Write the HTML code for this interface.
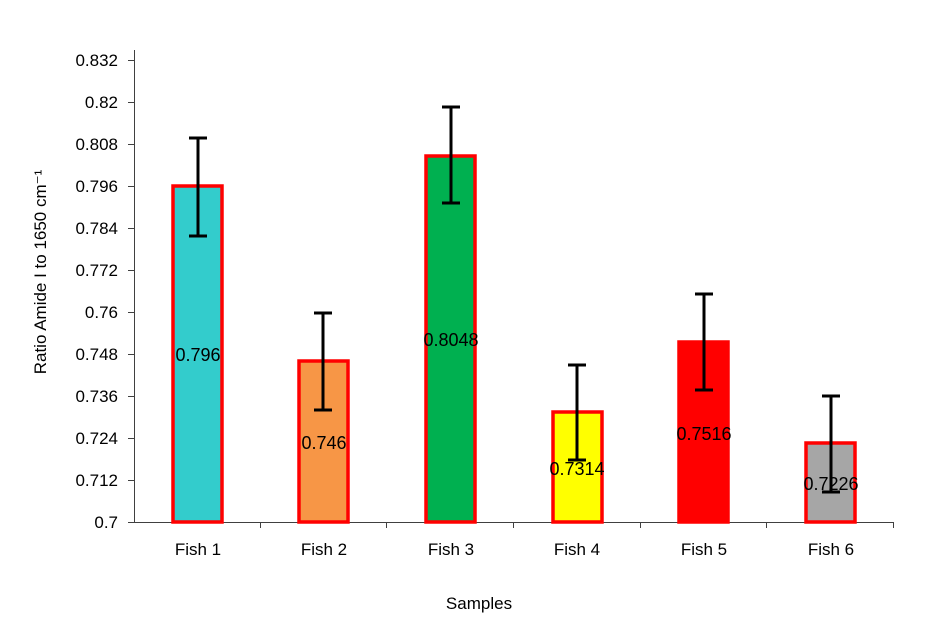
<!DOCTYPE html>
<html><head><meta charset="utf-8"><style>body{margin:0;background:#fff}svg{display:block}</style></head><body>
<svg width="941" height="629" xmlns="http://www.w3.org/2000/svg" font-family="Liberation Sans, Arial, sans-serif">
<rect width="941" height="629" fill="#fff"/>
<g stroke="#404040" stroke-width="1">
<line x1="134.5" y1="50" x2="134.5" y2="522"/>
<line x1="134" y1="522.5" x2="894" y2="522.5"/>
<line x1="128" y1="60.5" x2="134" y2="60.5"/><line x1="128" y1="102.5" x2="134" y2="102.5"/>
<line x1="128" y1="144.5" x2="134" y2="144.5"/><line x1="128" y1="186.5" x2="134" y2="186.5"/>
<line x1="128" y1="228.5" x2="134" y2="228.5"/><line x1="128" y1="270.5" x2="134" y2="270.5"/>
<line x1="128" y1="312.5" x2="134" y2="312.5"/><line x1="128" y1="354.5" x2="134" y2="354.5"/>
<line x1="128" y1="396.5" x2="134" y2="396.5"/><line x1="128" y1="438.5" x2="134" y2="438.5"/>
<line x1="128" y1="480.5" x2="134" y2="480.5"/><line x1="128" y1="522.5" x2="134" y2="522.5"/>
<line x1="260.5" y1="522" x2="260.5" y2="528"/><line x1="386.5" y1="522" x2="386.5" y2="528"/>
<line x1="513.5" y1="522" x2="513.5" y2="528"/><line x1="640.5" y1="522" x2="640.5" y2="528"/>
<line x1="766.5" y1="522" x2="766.5" y2="528"/><line x1="893.5" y1="522" x2="893.5" y2="528"/>
</g>
<g font-size="17" text-anchor="end" fill="#000">
<text x="118" y="66">0.832</text><text x="118" y="108">0.82</text><text x="118" y="150">0.808</text>
<text x="118" y="192">0.796</text><text x="118" y="234">0.784</text><text x="118" y="276">0.772</text>
<text x="118" y="318">0.76</text><text x="118" y="360">0.748</text><text x="118" y="402">0.736</text>
<text x="118" y="444">0.724</text><text x="118" y="486">0.712</text><text x="118" y="528">0.7</text>
</g>
<text transform="translate(46,272) rotate(-90)" font-size="17" text-anchor="middle">Ratio Amide I to 1650 cm⁻¹</text>
<g stroke="#ff0000" stroke-width="3.5">
<rect x="173" y="186" width="49" height="336" fill="#33cccc"/>
<rect x="299" y="361" width="49" height="161" fill="#f79646"/>
<rect x="426" y="156" width="49" height="366" fill="#00b050"/>
<rect x="553" y="412" width="49" height="110" fill="#ffff00"/>
<rect x="679" y="342" width="49" height="180" fill="#ff0000"/>
<rect x="806" y="443" width="49" height="79" fill="#a6a6a6"/>
</g>
<g stroke="#000" stroke-width="3">
<path d="M198 138V236M189 138H207M189 236H207"/>
<path d="M323 313V410M314 313H332M314 410H332"/>
<path d="M451 107V203M442 107H460M442 203H460"/>
<path d="M577 365V460M568 365H586M568 460H586"/>
<path d="M704 294V390M695 294H713M695 390H713"/>
<path d="M831 396V492M822 396H840M822 492H840"/>
</g>
<g font-size="18" text-anchor="middle">
<text x="198" y="361">0.796</text><text x="324" y="449">0.746</text><text x="451" y="346">0.8048</text>
<text x="577" y="475">0.7314</text><text x="704" y="440">0.7516</text><text x="831" y="490">0.7226</text>
</g>
<g font-size="17" text-anchor="middle">
<text x="198" y="555">Fish 1</text><text x="324" y="555">Fish 2</text><text x="451" y="555">Fish 3</text>
<text x="577" y="555">Fish 4</text><text x="704" y="555">Fish 5</text><text x="831" y="555">Fish 6</text>
<text x="479" y="609">Samples</text>
</g>
</svg>
</body></html>
